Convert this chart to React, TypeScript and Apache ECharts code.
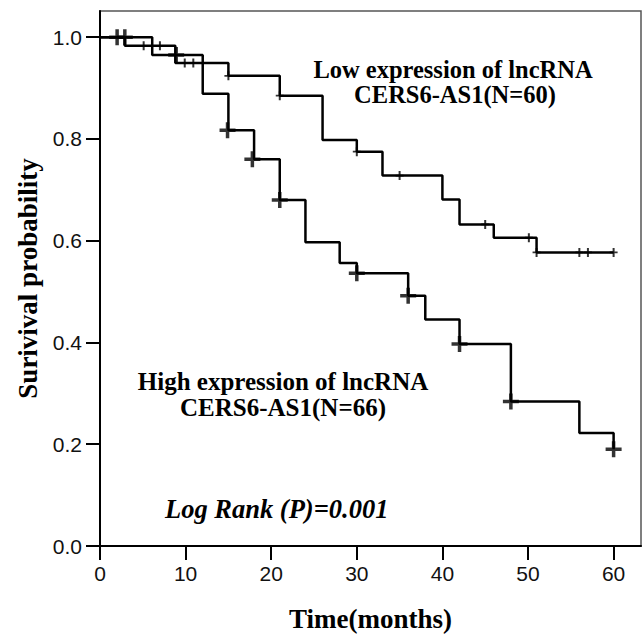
import { useEffect, useRef } from "react";
import * as echarts from "echarts";

const xTicks = [0, 10, 20, 30, 40, 50, 60];
const yTicks = [0, 0.2, 0.4, 0.6, 0.8, 1.0];

const lowTimes = [0, 2.9, 8.8, 15.0, 21.0, 26.0, 30.0, 33.0, 40.0, 42.0, 46.0, 51.0, 60.0];
const lowSurv = [1.0, 0.983, 0.949, 0.924, 0.885, 0.798, 0.775, 0.728, 0.681, 0.632, 0.606, 0.577, 0.577];
const lowCensorTimes = [5.1, 7.0, 9.9, 10.9, 15.0, 21.0, 30.0, 35.0, 45.0, 50.1, 51.0, 56.0, 57.0, 60.0];
const lowCensorSurv = [0.983, 0.983, 0.949, 0.949, 0.924, 0.885, 0.775, 0.728, 0.632, 0.606, 0.577, 0.577, 0.577, 0.577];

const highTimes = [0, 6.1, 12.0, 15.0, 18.0, 21.0, 24.0, 28.0, 30.0, 36.0, 38.0, 42.0, 48.0, 56.0, 60.0];
const highSurv = [1.0, 0.965, 0.889, 0.817, 0.76, 0.68, 0.597, 0.556, 0.536, 0.492, 0.445, 0.397, 0.284, 0.222, 0.19];
const highCensorTimes = [2.0, 2.9, 8.9, 14.9, 17.8, 21.0, 30.0, 36.0, 42.0, 48.0, 60.0];
const highCensorSurv = [1.0, 1.0, 0.965, 0.817, 0.76, 0.68, 0.536, 0.492, 0.397, 0.284, 0.19];

const lowLabel = ["Low expression of lncRNA", "CERS6-AS1(N=60)"];
const highLabel = ["High expression of lncRNA", "CERS6-AS1(N=66)"];
const pValueLabel = "Log Rank (P)=0.001";

const SERIF = '"Liberation Serif", "Times New Roman", serif';
const SANS = '"Liberation Sans", Arial, sans-serif';

const bigPlus = "path://M6.25,0 H9.75 V6.25 H16 V9.75 H9.75 V16 H6.25 V9.75 H0 V6.25 H6.25 Z";
const smallPlus = "path://M3,0 H5 V3.6 H8 V5.4 H5 V9 H3 V5.4 H0 V3.6 H3 Z";

export default function App() {
  const ref = useRef<HTMLDivElement>(null);
  useEffect(() => {
    if (!ref.current) return;
    const chart = echarts.init(ref.current, undefined, { renderer: "svg" });
    const zip = (a: number[], b: number[]) => a.map((t, i) => [t, b[i]]);
    const labelText = (text: string, x: number, y: number, size: number) => ({
      type: "text",
      x,
      y,
      style: {
        text,
        font: `bold ${size}px ${SERIF}`,
        fill: "#000",
        align: "center",
        verticalAlign: "middle",
      },
    });
    chart.setOption({
      animation: false,
      backgroundColor: "#ffffff",
      grid: {
        left: 100,
        top: 11,
        right: 1,
        bottom: 88,
        show: true,
        borderColor: "#555",
        borderWidth: 1.5,
      },
      xAxis: {
        type: "value",
        min: 0,
        max: 63.2,
        name: "Time(months)",
        nameLocation: "middle",
        nameGap: 59,
        nameTextStyle: { fontFamily: SERIF, fontWeight: "bold", fontSize: 27, color: "#000" },
        axisLine: { show: true, lineStyle: { color: "#000", width: 2 } },
        axisTick: { show: true, length: 14, lineStyle: { color: "#000", width: 2 }, customValues: xTicks },
        axisLabel: {
          customValues: xTicks,
          margin: 17,
          fontFamily: SANS,
          fontSize: 21,
          color: "#111",
        },
        splitLine: { show: false },
      },
      yAxis: {
        type: "value",
        min: 0,
        max: 1.0514,
        name: "Surivival probability",
        nameLocation: "middle",
        nameGap: 58,
        nameTextStyle: { fontFamily: SERIF, fontWeight: "bold", fontSize: 27, color: "#000" },
        axisLine: { show: true, lineStyle: { color: "#000", width: 2 } },
        axisTick: { show: true, length: 14, lineStyle: { color: "#000", width: 2 }, customValues: yTicks },
        axisLabel: {
          customValues: yTicks,
          margin: 18,
          fontFamily: SANS,
          fontSize: 21,
          color: "#111",
          formatter: (v: number) => v.toFixed(1),
        },
        splitLine: { show: false },
      },
      series: [
        {
          name: "Low",
          type: "line",
          step: "end",
          data: zip(lowTimes, lowSurv),
          showSymbol: false,
          lineStyle: { color: "#000", width: 2.5 },
          z: 3,
        },
        {
          name: "High",
          type: "line",
          step: "end",
          data: zip(highTimes, highSurv),
          showSymbol: false,
          lineStyle: { color: "#000", width: 2.5 },
          z: 3,
        },
        {
          name: "Low censored",
          type: "scatter",
          data: zip(lowCensorTimes, lowCensorSurv),
          symbol: smallPlus,
          symbolSize: [8, 9],
          itemStyle: { color: "#000" },
          z: 4,
        },
        {
          name: "High censored",
          type: "scatter",
          data: zip(highCensorTimes, highCensorSurv),
          symbol: bigPlus,
          symbolSize: [16, 16],
          itemStyle: { color: "#000" },
          z: 4,
        },
      ],
      graphic: [
        labelText(lowLabel[0], 453, 69, 24.5),
        labelText(lowLabel[1], 455, 94, 24.5),
        labelText(highLabel[0], 283, 381, 25),
        labelText(highLabel[1], 283, 407, 25),
        {
          type: "text",
          x: 165,
          y: 509,
          style: { text: pValueLabel, font: `italic bold 26.5px ${SERIF}`, fill: "#000", align: "left", verticalAlign: "middle" },
        },
      ],
    });
    return () => chart.dispose();
  }, []);
  return (
    <div
      ref={ref}
      style={{ position: "fixed", left: 0, top: 0, width: 642, height: 637, background: "#fff" }}
    />
  );
}
